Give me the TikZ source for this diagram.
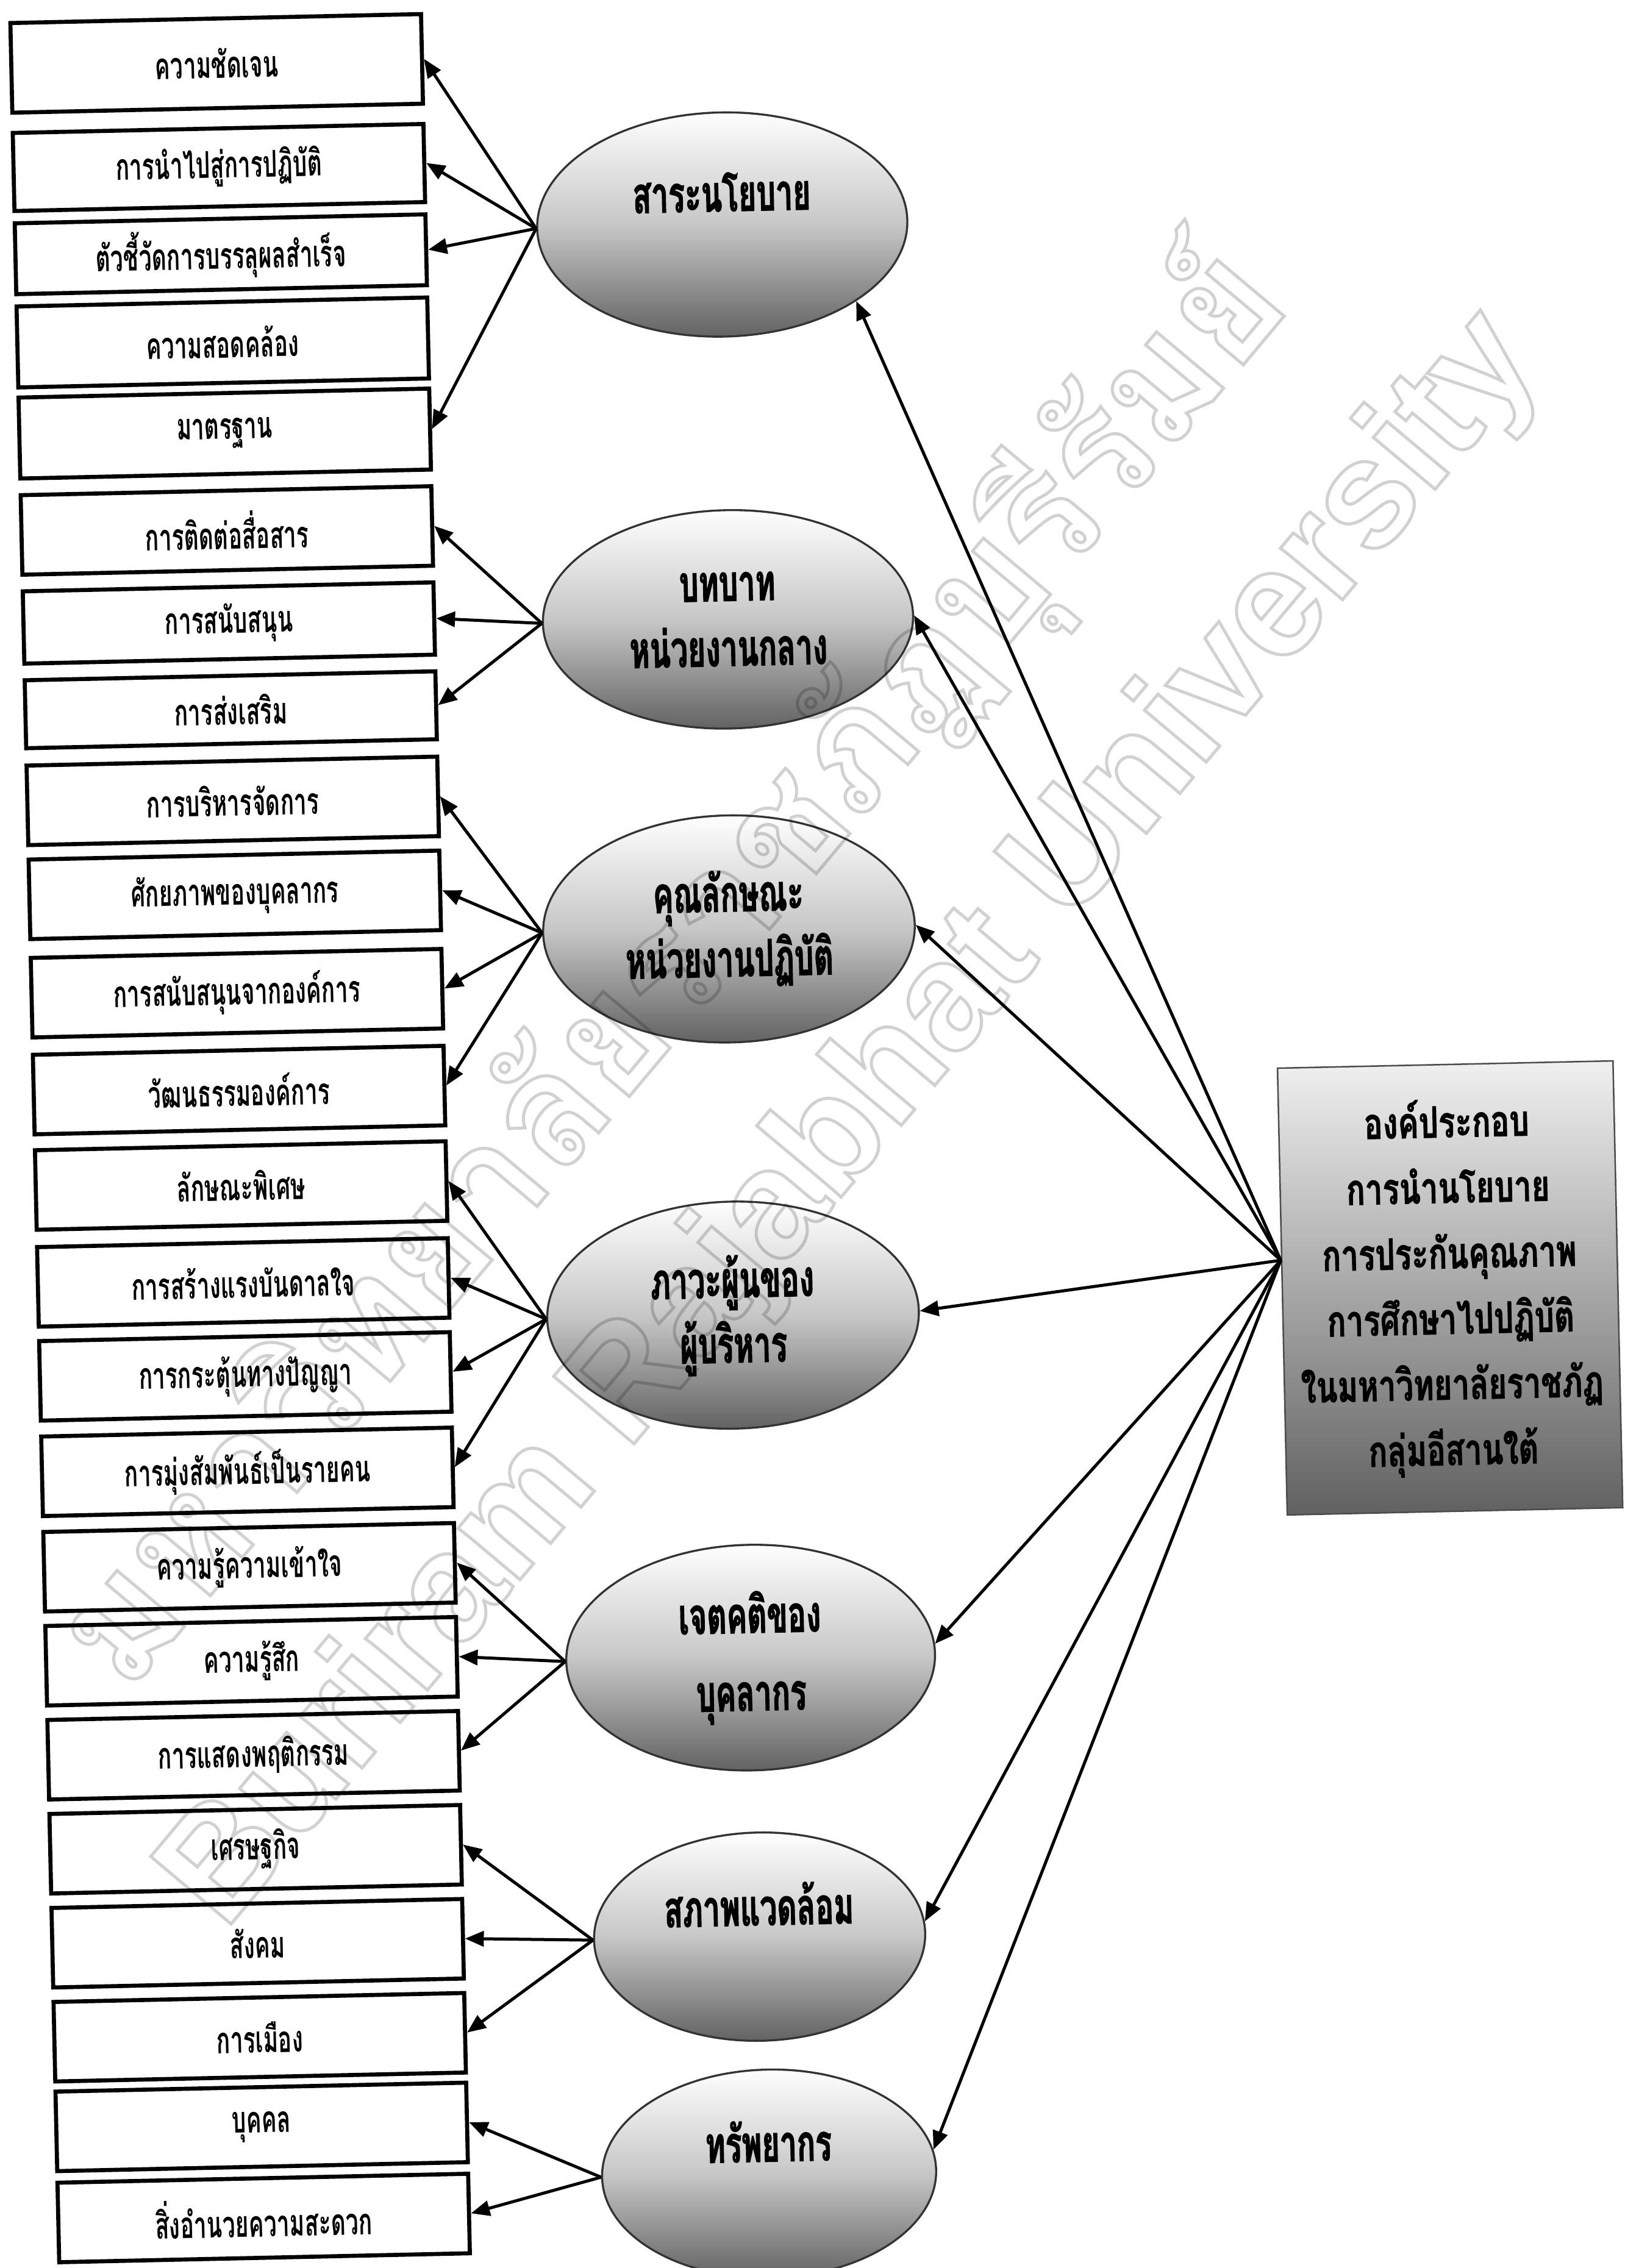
\documentclass[tikz,border=0pt]{standalone}
\usepackage{fontspec}
\setmainfont{Liberation Sans}
\newfontfamily\thaiwide[Script=Thai]{Loma}
\newfontfamily\thaislim[Script=Thai,FakeStretch=0.62]{Loma}
\newfontfamily\thaioval[Script=Thai,FakeStretch=0.6,FakeBold=1.5]{Loma}
\newfontfamily\thaicore[Script=Thai,FakeStretch=0.72,FakeBold=1.2]{Loma}
\usetikzlibrary{arrows.meta,shapes.geometric}

% outlined (hollow) text for the watermark
\newcommand\hollowtext[1]{\special{pdf:literal direct 1 Tr}#1\special{pdf:literal direct 0 Tr}}

\tikzset{
  subbox/.style={draw, line width=1.6pt, fill=white, minimum width=5.68cm, minimum height=1.1cm,
    inner sep=0pt, font=\thaislim\bfseries\fontsize{14.5}{16}\selectfont},
  aspect/.style={ellipse, draw=black!80, line width=0.8pt, top color=white, bottom color=black!62,
    middle color=black!22, minimum width=5.12cm, minimum height=3.12cm, inner sep=0pt, align=center,
    font=\thaioval\bfseries\fontsize{20}{25.6}\selectfont},
  mainbox/.style={draw=black!70, line width=0.6pt, top color=black!6, bottom color=black!62,
    minimum width=4.64cm, minimum height=6.18cm, inner sep=0pt, align=center,
    font=\thaicore\bfseries\fontsize{17}{25.8}\selectfont},
  feed/.style={line width=1.2pt, -{Triangle[length=2.6mm,width=2.1mm]}},
  wmark/.style={text=black!18, line width=1.2pt, inner sep=0pt}
}

\begin{document}
\begin{tikzpicture}[x=0.02cm, y=-0.02cm]
\useasboundingbox (0,0) rectangle (1123,1568);

\begin{scope}[rotate around={1.25:(561,784)}, transform shape]

  % right hand box
  \node[mainbox] (core) at (1000,900) {องค์ประกอบ\\การนำนโยบาย\\การประกันคุณภาพ\\การศึกษาไปปฏิบัติ\\ในมหาวิทยาลัยราชภัฏ\\กลุ่มอีสานใต้};
  \coordinate (hub) at ([yshift=0.43cm]core.west);

  % the seven ovals
  \node[aspect, minimum height=3.1cm] (policy) at (513,154) {สาระนโยบาย\\\mbox{}};
  \node[aspect, minimum height=3.02cm] (central) at (511,427) {บทบาท\\หน่วยงานกลาง};
  \node[aspect, minimum width=5.14cm, minimum height=3.14cm] (unit) at (507,641) {คุณลักษณะ\\หน่วยงานปฏิบัติ};
  \node[aspect, minimum width=5.14cm, minimum height=3.14cm] (leader) at (504,908) {ภาวะผู้นของ\\ผู้บริหาร};
  \node[aspect, minimum width=5.1cm] (attitude) at (511,1145) {เจตคติของ\\[5pt]บุคลากร};
  \node[aspect, minimum width=4.58cm, minimum height=2.88cm] (milieu) at (513,1338) {สภาพแวดล้อม\\\mbox{}};
  \node[aspect, minimum width=4.62cm, minimum height=2.88cm] (resource) at (516,1502) {ทรัพยากร\\\mbox{}};

  % left column
  \node[subbox, minimum height=1.24cm] (b1) at (166,35) {ความชัดเจน};
  \node[subbox, minimum height=1.08cm] (b2) at (166,107) {การนำไปสู่การปฏิบัติ};
  \node[subbox, minimum height=0.98cm] (b3) at (166,167) {ตัวชี้วัดการบรรลุผลสำเร็จ};
  \node[subbox, minimum height=1.12cm] (b4) at (166,228) {ความสอดคล้อง};
  \node[subbox, minimum height=1.12cm] (b5) at (166,291) {มาตรฐาน};
  \node[subbox] (b6) at (166,358) {การติดต่อสื่อสาร};
  \node[subbox, minimum height=1.0cm] (b7) at (166,422) {การสนับสนุน};
  \node[subbox, minimum height=0.94cm] (b8) at (166,482) {การส่งเสริม};
  \node[subbox] (b9) at (166,545) {การบริหารจัดการ};
  \node[subbox] (b10) at (166,610) {ศักยภาพของบุคลากร};
  \node[subbox] (b11) at (166,678) {การสนับสนุนจากองค์การ};
  \node[subbox] (b12) at (166,745) {วัฒนธรรมองค์การ};
  \node[subbox] (b13) at (166,811) {ลักษณะพิเศษ};
  \node[subbox] (b14) at (166,878) {การสร้างแรงบันดาลใจ};
  \node[subbox] (b15) at (166,943) {การกระตุ้นทางปัญญา};
  \node[subbox] (b16) at (166,1009) {การมุ่งสัมพันธ์เป็นรายคน};
  \node[subbox] (b17) at (166,1075) {ความรู้ความเข้าใจ};
  \node[subbox] (b18) at (166,1140) {ความรู้สึก};
  \node[subbox] (b19) at (166,1205) {การแสดงพฤติกรรม};
  \node[subbox] (b20) at (166,1270) {เศรษฐกิจ};
  \node[subbox] (b21) at (166,1335) {สังคม};
  \node[subbox] (b22) at (166,1400) {การเมือง};
  \node[subbox] (b23) at (166,1462) {บุคคล};
  \node[subbox] (b24) at (166,1525) {สิ่งอำนวยความสะดวก};

  % box to ovals
  \draw[feed] (hub) -- (policy.-31);
  \draw[feed] (hub) -- (central.east);
  \draw[feed] (hub) -- (unit.east);
  \draw[feed] (hub) -- (leader.east);
  \draw[feed] (hub) -- (attitude.3);
  \draw[feed] (hub) -- (milieu.4);
  \draw[feed] (hub) -- (resource.7);

  % ovals to left column
  \draw[feed] (policy.west) -- (b1.east);
  \draw[feed] (policy.west) -- (b2.east);
  \draw[feed] (policy.west) -- (b3.east);
  \draw[feed] (policy.west) -- (b5.east);
  \draw[feed] (central.west) -- (b6.east);
  \draw[feed] (central.west) -- (b7.east);
  \draw[feed] (central.west) -- (b8.east);
  \draw[feed] (unit.west) -- (b9.east);
  \draw[feed] (unit.west) -- (b10.east);
  \draw[feed] (unit.west) -- (b11.east);
  \draw[feed] (unit.west) -- (b12.east);
  \draw[feed] (leader.west) -- (b13.east);
  \draw[feed] (leader.west) -- (b14.east);
  \draw[feed] (leader.west) -- (b15.east);
  \draw[feed] (leader.west) -- (b16.east);
  \draw[feed] (attitude.west) -- (b17.east);
  \draw[feed] (attitude.west) -- (b18.east);
  \draw[feed] (attitude.west) -- (b19.east);
  \draw[feed] (milieu.west) -- (b20.east);
  \draw[feed] (milieu.west) -- (b21.east);
  \draw[feed] (milieu.west) -- (b22.east);
  \draw[feed] (resource.west) -- (b23.east);
  \draw[feed] (resource.west) -- (b24.east);
\end{scope}

% watermark
\begin{scope}[blend mode=multiply]
  \node[wmark, rotate=50] (wthai) at (465,670) {\thaiwide\bfseries\fontsize{62}{62}\selectfont\hollowtext{มหาวิทยาลัยราชภัฏบุรีรัมย์}};
  \node[wmark, rotate=50] (weng) at (590,775) {\bfseries\fontsize{60}{60}\selectfont\hollowtext{Buriram Rajabhat University}};
\end{scope}

\end{tikzpicture}
\end{document}
